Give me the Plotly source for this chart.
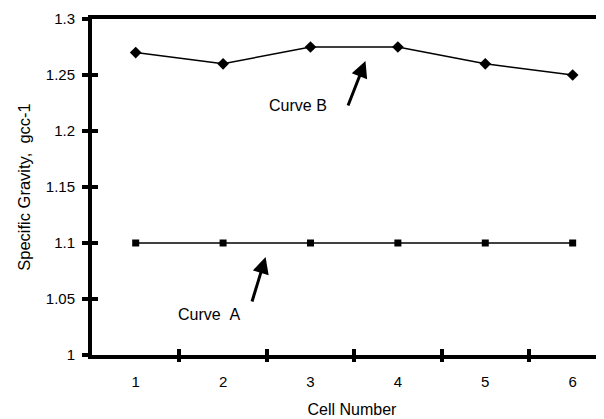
import plotly.graph_objects as go

cells = [1, 2, 3, 4, 5, 6]
curve_a = [1.10, 1.10, 1.10, 1.10, 1.10, 1.10]
curve_b = [1.27, 1.26, 1.275, 1.275, 1.26, 1.25]
y_ticks = [1, 1.05, 1.1, 1.15, 1.2, 1.25, 1.3]
y_tick_text = ["1", "1.05", "1.1", "1.15", "1.2", "1.25", "1.3"]
x_boundaries = [1.5, 2.5, 3.5, 4.5, 5.5]

FONT = "Liberation Sans, Arial, sans-serif"
XR = [0.5, 6.45]
YR = [1.0, 1.3]

fig = go.Figure()
fig.add_trace(go.Scatter(x=cells, y=curve_b, mode="lines+markers",
                         line=dict(color="black", width=1.5),
                         marker=dict(symbol="diamond", size=9, color="black"),
                         showlegend=False, cliponaxis=False))
fig.add_trace(go.Scatter(x=cells, y=curve_a, mode="lines+markers",
                         line=dict(color="black", width=1.3),
                         marker=dict(symbol="square", size=7, color="black"),
                         showlegend=False, cliponaxis=False))

# Text labels
fig.add_annotation(x=2.86, y=1.2225, xref="x", yref="y", text="Curve B",
                   showarrow=False, font=dict(family=FONT, size=16, color="black"))
fig.add_annotation(x=1.84, y=1.036, xref="x", yref="y", text="Curve&nbsp;&nbsp;A",
                   showarrow=False, font=dict(family=FONT, size=16, color="black"))

# Arrows
fig.add_annotation(x=3.629, y=1.2625, ax=3.423, ay=1.2214, xref="x", yref="y",
                   axref="x", ayref="y", text="", showarrow=True,
                   arrowhead=2, arrowsize=1.1, arrowwidth=3, arrowcolor="black")
fig.add_annotation(x=2.486, y=1.0875, ax=2.326, ay=1.0464, xref="x", yref="y",
                   axref="x", ayref="y", text="", showarrow=True,
                   arrowhead=2, arrowsize=1.1, arrowwidth=3, arrowcolor="black")

# dummy traces to activate overlay axes
fig.add_trace(go.Scatter(x=[None], y=[None], xaxis="x2", yaxis="y", showlegend=False))
fig.add_trace(go.Scatter(x=[None], y=[None], xaxis="x3", yaxis="y2", showlegend=False))

tickfont = dict(family=FONT, size=15, color="black")
fig.update_layout(
    width=604, height=419,
    margin=dict(l=84, r=0, t=11, b=72),
    paper_bgcolor="white", plot_bgcolor="white",
    xaxis=dict(range=XR, tickvals=cells, ticktext=[str(c) for c in cells],
               ticks="", showgrid=False, zeroline=False, automargin=False,
               showline=True, linecolor="black", linewidth=4, mirror=True,
               tickfont=tickfont, ticklabelstandoff=10,
               title=dict(text="Cell Number", font=dict(family=FONT, size=16, color="black"),
                          standoff=16)),
    xaxis2=dict(range=XR, overlaying="x", anchor="y", side="bottom", automargin=False,
                tickvals=x_boundaries, ticks="outside", ticklen=6, tickwidth=4,
                tickcolor="black", showticklabels=False, showgrid=False,
                zeroline=False, showline=False),
    xaxis3=dict(range=XR, overlaying="x", anchor="y2", side="bottom", automargin=False,
                tickvals=x_boundaries, ticks="inside", ticklen=6, tickwidth=4,
                tickcolor="black", showticklabels=False, showgrid=False,
                zeroline=False, showline=False),
    yaxis=dict(range=YR, tickvals=y_ticks, ticktext=y_tick_text, automargin=False,
               ticks="outside", ticklen=6, tickwidth=4, tickcolor="black",
               showgrid=False, zeroline=False,
               showline=True, linecolor="black", linewidth=4,
               tickfont=tickfont, ticklabelstandoff=4,
               title=dict(text="Specific Gravity,&nbsp; gcc-1",
                          font=dict(family=FONT, size=16.5, color="black"), standoff=12)),
    yaxis2=dict(range=YR, overlaying="y", anchor="x", side="left", automargin=False,
                tickvals=y_ticks, ticks="inside", ticklen=6, tickwidth=4,
                tickcolor="black", showticklabels=False, showgrid=False,
                zeroline=False, showline=False),
)

fig.write_html("out.html")
